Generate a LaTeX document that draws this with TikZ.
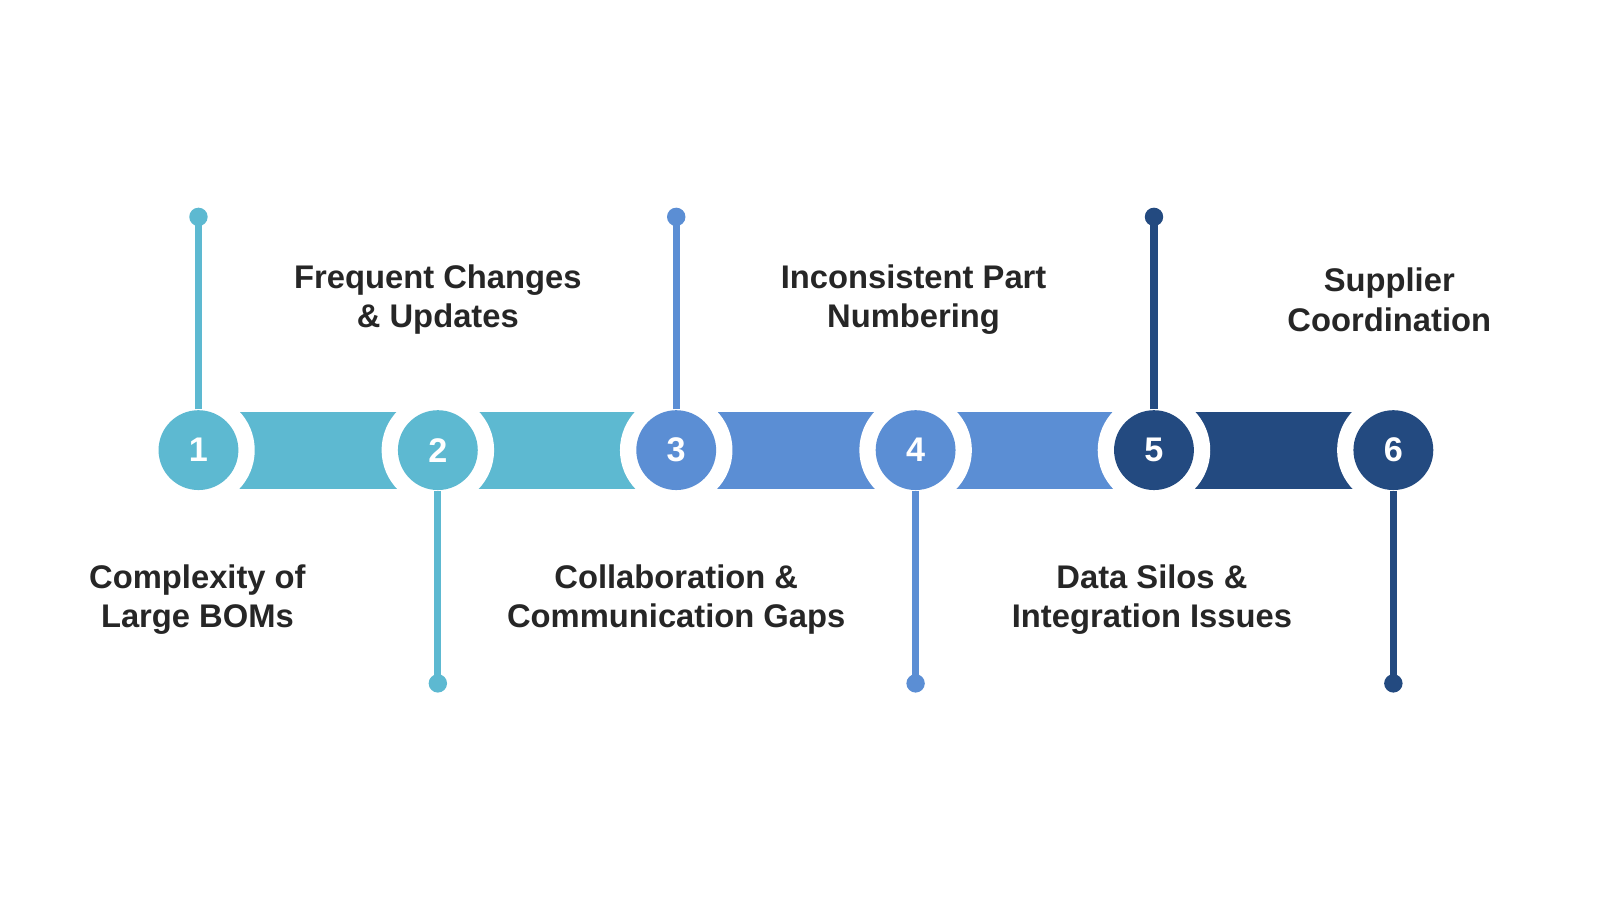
\documentclass[tikz,border=0pt]{standalone}
\usepackage{fontspec}
\setmainfont{Liberation Sans}
\begin{document}
\begin{tikzpicture}[x=0.01cm,y=-0.01cm,
  lbl/.style={font=\fontsize{9.1pt}{11pt}\selectfont\bfseries,align=center,text=black!85},
  num/.style={font=\fontsize{9.5pt}{11pt}\selectfont\bfseries,text=white,circle,minimum size=0.78cm,inner sep=0pt},
  pin/.style={line width=0.07cm}]
\useasboundingbox (0,0) rectangle (1564,880);
\definecolor{cA}{HTML}{5DB9D1}
\definecolor{cB}{HTML}{5B8ED4}
\definecolor{cC}{HTML}{234A80}
\foreach \i/\x/\c in {1/194/cA,2/428/cA,3/661/cB,4/895/cB,5/1128/cC}{
  \fill[\c] (\x,403) rectangle (\x+234,478);
}
\foreach \i/\x/\c/\py in {1/194/cA/212,2/428/cA/668,3/661/cB/212,4/895/cB/668,5/1128/cC/212,6/1362/cC/668}{
  \fill[white] (\x,440) circle (55);
  \coordinate (p\i) at (\x,\py);
  \node[num,fill=\c] (n\i) at (\x,440) {\i};
  \draw[pin,\c] (n\i) -- (p\i);
  \fill[\c] (p\i) circle (9);
}
\node[lbl] (t2) at (428,293) {Frequent Changes\\\& Updates};
\node[lbl] (t4) at (893,293) {Inconsistent Part\\Numbering};
\node[lbl] (t6) at (1358,293) {Supplier\\Coordination};
\node[lbl] (t1) at (193,586) {Complexity of\\Large BOMs};
\node[lbl] (t3) at (661,586) {Collaboration \&\\Communication Gaps};
\node[lbl] (t5) at (1126,586) {Data Silos \&\\Integration Issues};
\end{tikzpicture}
\end{document}
